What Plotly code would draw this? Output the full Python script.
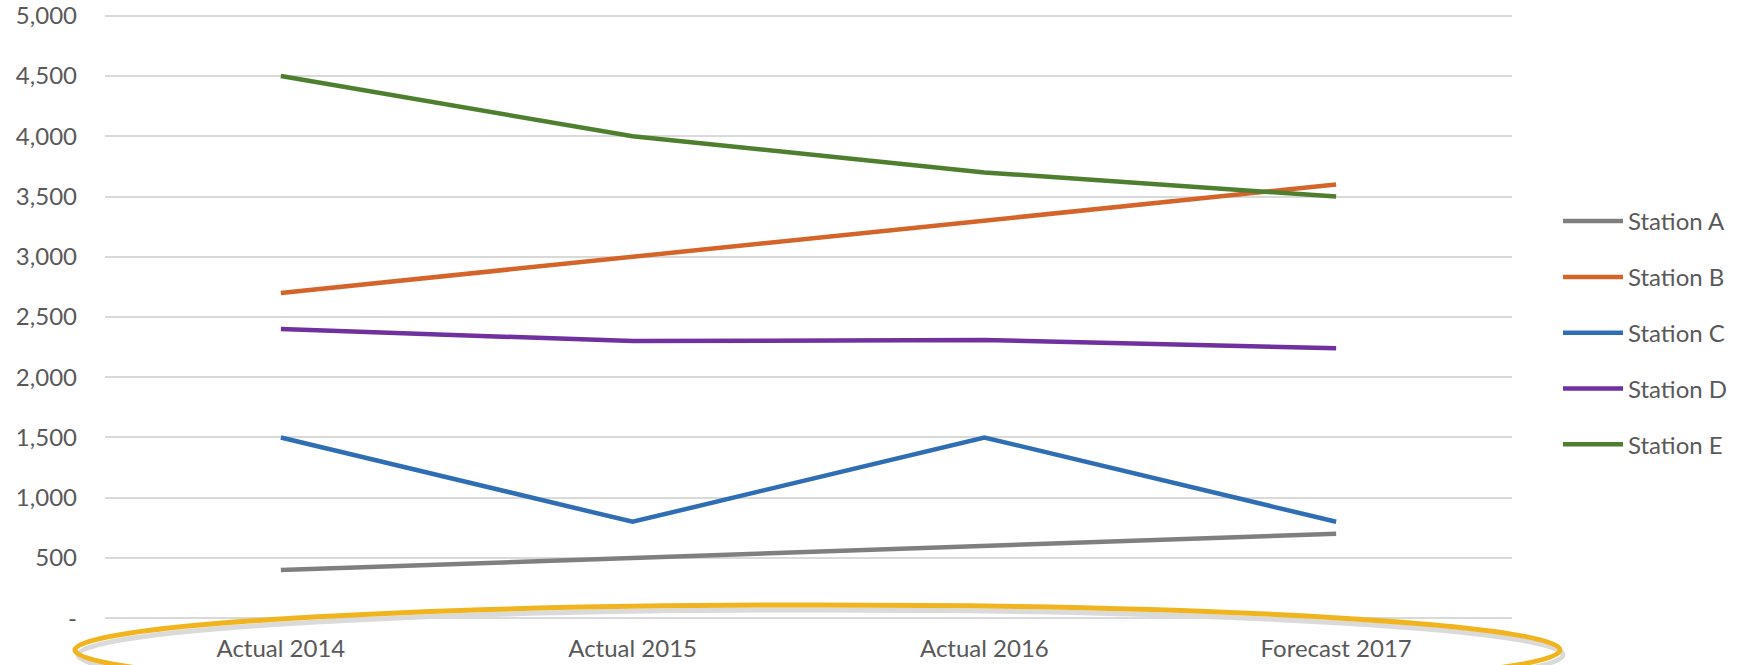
import plotly.graph_objects as go

categories = ["Actual 2014", "Actual 2015", "Actual 2016", "Forecast 2017"]
station_a = [400, 500, 600, 700]
station_b = [2700, 3000, 3300, 3600]
station_c = [1500, 800, 1500, 800]
station_d = [2400, 2300, 2310, 2240]
station_e = [4500, 4000, 3700, 3500]
series_names = ["Station A", "Station B", "Station C", "Station D", "Station E"]
series_colors = ["#7F7F7F", "#D4642A", "#2F6EB5", "#7030A0", "#4E7F2E"]
y_tickvals = [0, 500, 1000, 1500, 2000, 2500, 3000, 3500, 4000, 4500, 5000]
y_ticktext = ["-", "500", "1,000", "1,500", "2,000", "2,500", "3,000", "3,500", "4,000", "4,500", "5,000"]

FONT = "Lato, 'Open Sans', sans-serif"
GREY = "#595959"

fig = go.Figure()
for name, vals, col in zip(series_names,
                           [station_a, station_b, station_c, station_d, station_e],
                           series_colors):
    fig.add_trace(go.Scatter(
        x=categories, y=vals, name=name, mode="lines",
        line=dict(color=col, width=4.5),
        legendgroup=name,
    ))

W, H = 1742, 665
L, R, T, B = 105, 230, 11, 42
pw, ph = W - L - R, H - T - B

def px_x(x):
    return (x - L) / pw

def px_y(y):
    return (H - B - y) / ph

# highlight ellipse around category labels (with soft shadow)
fig.add_shape(type="circle", xref="paper", yref="paper",
              x0=px_x(78), x1=px_x(1563), y0=px_y(700), y1=px_y(610),
              line=dict(color="rgba(150,150,150,0.35)", width=5), layer="below")
fig.add_shape(type="circle", xref="paper", yref="paper",
              x0=px_x(75), x1=px_x(1560), y0=px_y(695), y1=px_y(605),
              line=dict(color="#F0B51E", width=5), layer="above")

fig.update_layout(
    width=W, height=H,
    margin=dict(l=L, r=R, t=T, b=B, autoexpand=False),
    paper_bgcolor="white", plot_bgcolor="white",
    font=dict(family=FONT, size=24, color=GREY),
    showlegend=True,
    legend=dict(x=px_x(1558), xanchor="left", y=px_y(199), yanchor="top",
                font=dict(family=FONT, size=24, color=GREY),
                tracegroupgap=21.6, bgcolor="rgba(0,0,0,0)", itemwidth=60),
    xaxis=dict(type="category", range=[-0.5, 3.5], showgrid=False,
               showline=False, zeroline=False, automargin=False,
               ticks="", ticklabelstandoff=9, ticklabeloverflow="allow",
               tickfont=dict(family=FONT, size=24, color=GREY)),
    yaxis=dict(range=[-40, 5040], tickvals=y_tickvals, ticktext=y_ticktext,
               showgrid=True, gridcolor="#D9D9D9", gridwidth=2,
               zeroline=False, showline=False, automargin=False,
               ticks="", ticklabelstandoff=27, ticklabeloverflow="allow",
               tickfont=dict(family=FONT, size=24, color=GREY)),
)

fig.write_html("out.html")
